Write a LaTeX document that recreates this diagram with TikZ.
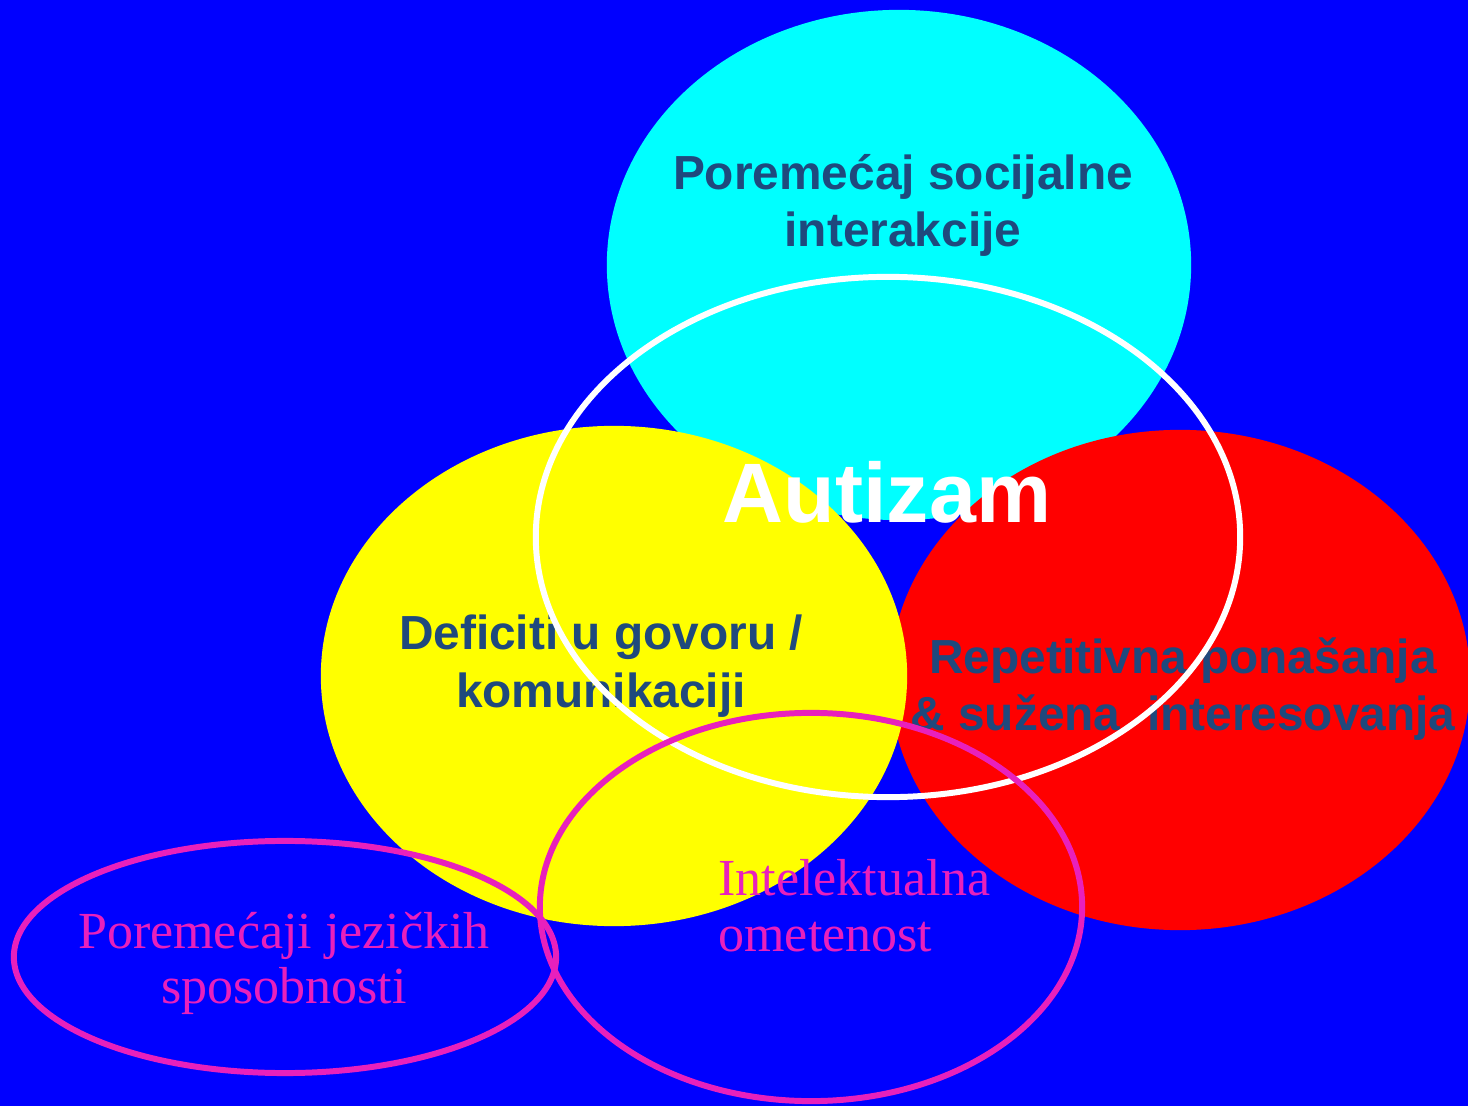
\documentclass[tikz,border=0pt]{standalone}
\usepackage{fontspec}
\setmainfont{Liberation Serif}
\setsansfont{Liberation Sans}
\usetikzlibrary{shapes.geometric,backgrounds}
\definecolor{bgblue}{RGB}{0,0,255}
\definecolor{socialcyan}{RGB}{0,255,255}
\definecolor{speechyellow}{RGB}{255,255,0}
\definecolor{repetred}{RGB}{255,0,0}
\definecolor{labelblue}{RGB}{31,73,125}
\definecolor{ringpink}{RGB}{232,32,188}

\begin{document}
\begin{tikzpicture}[x=0.01cm,y=-0.01cm]

\tikzset{blob/.style={shape=ellipse,inner sep=0pt,draw=none},
ring/.style={shape=ellipse,inner sep=0pt,line width=1.7pt},
boldlabel/.style={font=\sffamily\bfseries\fontsize{13.6}{16.4}\selectfont,text=labelblue,align=center,anchor=base},
pinklabel/.style={font=\fontsize{14.8}{15.8}\selectfont,text=ringpink,anchor=base}}

% Background
\fill[bgblue] (0,0) rectangle (1468,1106);
\useasboundingbox (0,0) rectangle (1468,1106);

% Filled areas
\node (social) [blob,fill=socialcyan,minimum width=5.84cm,minimum height=5.10cm] at (899,265) {};
\node (repet) [blob,fill=repetred,minimum width=5.80cm,minimum height=5.00cm] at (1180,680) {};
\node (speech) [blob,fill=speechyellow,minimum width=5.86cm,minimum height=5.00cm] at (614,676) {};

% Labels (anchor at last baseline)
\node (socialtxt) [boldlabel] at (903,247) {Poremećaj socijalne\\interakcije};
\node (speechtxt) [boldlabel] at (601,707) {Deficiti u govoru /\\komunikaciji};
\node (repettxt) [boldlabel] at (1183,731) {Repetitivna ponašanja\\\& sužena\ \ interesovanja};

% Autism ring
\node (autism) [ring,draw=white,minimum width=7.04cm,minimum height=5.20cm] at (888,537) {};
\node (autismtxt) [font=\sffamily\bfseries\fontsize{24}{28}\selectfont,text=white,anchor=base] at (887,522) {Autizam};

% Outer rings
\node (lang) [ring,draw=ringpink,minimum width=5.42cm,minimum height=2.32cm] at (285,957) {};
\node (intel) [ring,draw=ringpink,minimum width=5.42cm,minimum height=3.88cm] at (811,907) {};
\node (langtxt) [pinklabel,align=center] at (284,1004) {Poremećaji jezičkih\\sposobnosti};
\node (inteltxt) [pinklabel,align=left,anchor=base west] at (706,951) {Intelektualna\\ometenost};

\end{tikzpicture}
\end{document}
